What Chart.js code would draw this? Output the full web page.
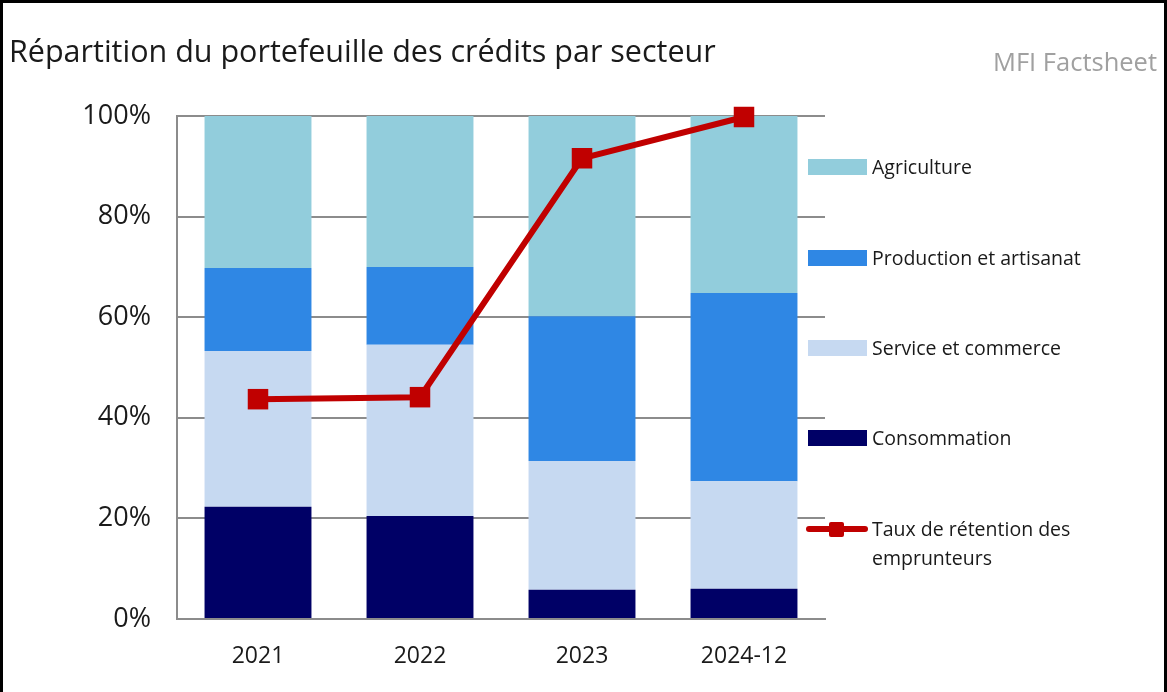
<!DOCTYPE html>
<html>
<head>
<meta charset="utf-8">
<script src="https://cdn.jsdelivr.net/npm/chart.js@4.4.1/dist/chart.umd.min.js"></script>
<style>
  html, body { margin:0; padding:0; background:#fff; }
  #wrap { position:relative; width:1167px; height:692px; overflow:hidden; font-family:"Open Sans", sans-serif; }
  #frame { position:absolute; left:0; top:0; height:700px; border:3px solid #000; box-sizing:border-box; width:1167px; pointer-events:none; }
  canvas { position:absolute; left:0; top:0; }
  #title { position:absolute; left:9px; top:29px; font-size:30.5px; line-height:42px; color:#1a1a1a; white-space:nowrap; }
  #src { position:absolute; right:10px; top:43px; font-size:25.5px; line-height:36px; color:#a0a0a0; white-space:nowrap; }
  .lg { position:absolute; left:808px; font-size:19.5px; color:#1a1a1a; white-space:nowrap; line-height:29px; }
  .lg .box { position:absolute; left:0; width:59px; height:16px; top:-8px; }
  .lg .txt { position:absolute; left:64px; top:-15px; }
  .lg .ln { position:absolute; left:-2px; width:62px; height:6px; top:-3px; background:#C00000; border-radius:3px; }
  .lg .mk { position:absolute; left:21px; width:15px; height:15px; top:-7.5px; background:#C00000; border-radius:2px; }
</style>
</head>
<body>
<div id="wrap">
  <canvas id="c" width="1167" height="692"></canvas>
  <div id="title">Répartition du portefeuille des crédits par secteur</div>
  <div id="src">MFI Factsheet</div>
  <div id="legend"></div>
  <div id="frame"></div>
</div>
<script>
const categories = ["2021", "2022", "2023", "2024-12"];
const consommation = [22.3, 20.5, 5.8, 6.0];
const serviceCommerce = [31.0, 34.0, 25.6, 21.4];
const productionArtisanat = [16.5, 15.5, 28.8, 37.4];
const agriculture = [30.2, 30.0, 39.8, 35.2];
const tauxRetention = [43.7, 44.1, 91.6, 99.8];
const yTicks = [0, 20, 40, 60, 80, 100];

const colors = {
  agri: "#92CDDC",
  prod: "#2F87E4",
  serv: "#C6D9F1",
  cons: "#000066",
  taux: "#C00000"
};

// HTML legend
const legendItems = [
  { label: "Agriculture", color: colors.agri, y: 167 },
  { label: "Production et artisanat", color: colors.prod, y: 258 },
  { label: "Service et commerce", color: colors.serv, y: 348 },
  { label: "Consommation", color: colors.cons, y: 438 },
  { label: "Taux de rétention des<br>emprunteurs", color: colors.taux, y: 529, line: true }
];
const lg = document.getElementById("legend");
legendItems.forEach(it => {
  const d = document.createElement("div");
  d.className = "lg";
  d.style.top = it.y + "px";
  if (it.line) {
    d.innerHTML = '<div class="ln"></div><div class="mk"></div><div class="txt">' + it.label + '</div>';
  } else {
    d.innerHTML = '<div class="box" style="background:' + it.color + '"></div><div class="txt">' + it.label + '</div>';
  }
  lg.appendChild(d);
});

const gridColor = "#8c8c8c";
const font = { family: "'Open Sans', sans-serif" };

new Chart(document.getElementById("c"), {
  data: {
    labels: categories,
    datasets: [
      {
        type: "line", label: "Taux de rétention des emprunteurs", data: tauxRetention,
        borderColor: colors.taux, backgroundColor: colors.taux, borderWidth: 6,
        pointStyle: "rect", pointRadius: 14.5, pointBorderWidth: 0,
        order: 0, tension: 0, clip: false
      },
      { type: "bar", label: "Consommation", data: consommation, backgroundColor: colors.cons, order: 1 },
      { type: "bar", label: "Service et commerce", data: serviceCommerce, backgroundColor: colors.serv, order: 1 },
      { type: "bar", label: "Production et artisanat", data: productionArtisanat, backgroundColor: colors.prod, order: 1 },
      { type: "bar", label: "Agriculture", data: agriculture, backgroundColor: colors.agri, order: 1 }
    ]
  },
  options: {
    responsive: false,
    animation: false,
    devicePixelRatio: 1,
    layout: { padding: { left: 0, right: 342, top: 116, bottom: 0 } },
    datasets: { bar: { categoryPercentage: 1.0, barPercentage: 0.66, borderWidth: 0 } },
    plugins: { legend: { display: false }, tooltip: { enabled: false } },
    scales: {
      x: {
        stacked: true,
        grid: { display: false, drawTicks: false },
        border: { display: true, color: gridColor, width: 2 },
        ticks: { color: "#1a1a1a", font: { ...font, size: 23 }, padding: 24 },
        afterFit: s => { s.height = 73; }
      },
      y: {
        stacked: true,
        min: 0, max: 100,
        afterBuildTicks: s => { s.ticks = yTicks.map(v => ({ value: v })); },
        grid: { color: gridColor, lineWidth: 2, drawTicks: false },
        border: { display: true, color: gridColor, width: 2 },
        ticks: { color: "#1a1a1a", font: { ...font, size: 27 }, padding: 26, callback: v => v + "%" },
        afterFit: s => { s.width = 177; }
      }
    }
  }
});
</script>
</body>
</html>
